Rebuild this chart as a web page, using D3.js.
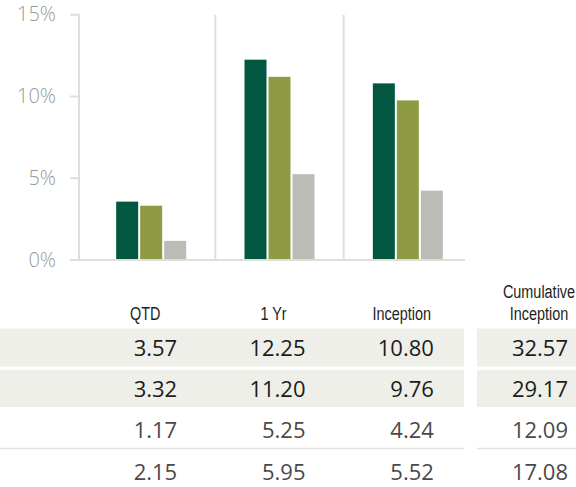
<!DOCTYPE html>
<meta charset="utf-8">
<script src="https://cdn.jsdelivr.net/npm/d3@7"></script>
<style>
  body { margin: 0; background: #fff; }
  .tick-label { font: 300 20px "Open Sans", sans-serif; fill: #999; }
  .head { font: 19px "Liberation Sans", Arial, sans-serif; fill: #1e1e1e; }
  .num { font: 22px "Open Sans", sans-serif; }
</style>
<body>
<script>
  // periods shown as bar groups and table columns
  var periods = ["QTD", "1 Yr", "Inception"];
  var headers = ["QTD", "1 Yr", "Inception", "Cumulative\nInception"];
  var yTicks = [0, 5, 10, 15];

  // table rows (first three are also drawn as bars)
  var row1 = [3.57, 12.25, 10.80];
  var row2 = [3.32, 11.20, 9.76];
  var row3 = [1.17, 5.25, 4.24];
  var row4 = [2.15, 5.95, 5.52];
  var cumulative = [32.57, 29.17, 12.09, 17.08];

  var barRows = [row1, row2, row3];
  var barColors = ["#035741", "#8f9b43", "#bcbcb7"];
  var tableRows = [row1, row2, row3, row4];

  var width = 576, height = 487;
  var svg = d3.select("body").append("svg")
    .attr("width", width)
    .attr("height", height);

  var x = d3.scaleBand().domain(periods).range([87, 472]);
  var x1 = d3.scaleBand().domain(d3.range(barRows.length)).range([-35, 35]).paddingInner(0.0833);
  var y = d3.scaleLinear().domain([0, 15]).range([260, 14.7]);

  var gridColor = "#dfdfd9";

  // left axis line + ticks
  svg.append("line")
    .attr("x1", 79).attr("x2", 79)
    .attr("y1", y(15)).attr("y2", y(0))
    .attr("stroke", gridColor).attr("stroke-width", 2);

  svg.selectAll(".ytick").data(yTicks).enter().append("line")
    .attr("x1", 70).attr("x2", 79)
    .attr("y1", function (d) { return y(d); })
    .attr("y2", function (d) { return y(d); })
    .attr("stroke", gridColor).attr("stroke-width", 2);

  svg.selectAll(".tick-label").data(yTicks).enter().append("text")
    .attr("class", "tick-label")
    .attr("x", 56)
    .attr("y", function (d) { return y(d); })
    .attr("dy", "0.33em")
    .attr("text-anchor", "end")
    .text(function (d) { return d + "%"; });

  // dividers between periods
  svg.selectAll(".divider").data(periods.slice(1)).enter().append("line")
    .attr("x1", function (d) { return x(d); })
    .attr("x2", function (d) { return x(d); })
    .attr("y1", y(15)).attr("y2", y(0))
    .attr("stroke", gridColor).attr("stroke-width", 2);

  // bars
  var group = svg.selectAll(".period").data(periods).enter().append("g")
    .attr("transform", function (d) { return "translate(" + (x(d) + x.bandwidth() / 2) + ",0)"; });

  group.selectAll("rect")
    .data(function (d, i) {
      return barRows.map(function (r, k) { return { k: k, v: r[i] }; });
    })
    .enter().append("rect")
    .attr("x", function (d) { return x1(d.k); })
    .attr("width", x1.bandwidth())
    .attr("y", function (d) { return y(d.v); })
    .attr("height", function (d) { return y(0) - y(d.v); })
    .attr("fill", function (d) { return barColors[d.k]; });

  // baseline
  svg.append("line")
    .attr("x1", 70).attr("x2", 465)
    .attr("y1", y(0)).attr("y2", y(0))
    .attr("stroke", gridColor).attr("stroke-width", 2);

  // ---- table ----
  var colRight = periods.map(function (p) { return x(p) + x.bandwidth() / 2 + 26; }).concat([568]);
  var headCenter = periods.map(function (p) { return x(p) + x.bandwidth() / 2 - 6; }).concat([539]);
  var rowBase = [356, 397, 438, 480];
  var segments = [[0, 464], [477, 576]];

  // shaded rows
  [[328.5, 366.5], [370, 407]].forEach(function (band) {
    svg.selectAll(null).data(segments).enter().append("rect")
      .attr("x", function (s) { return s[0]; })
      .attr("width", function (s) { return s[1] - s[0]; })
      .attr("y", band[0])
      .attr("height", band[1] - band[0])
      .attr("fill", "#efefea");
  });

  // separator before last row
  svg.selectAll(null).data(segments).enter().append("line")
    .attr("x1", function (s) { return s[0]; })
    .attr("x2", function (s) { return s[1]; })
    .attr("y1", 448.5).attr("y2", 448.5)
    .attr("stroke", "#e3e3de").attr("stroke-width", 1.5);

  // headers (condensed)
  headers.forEach(function (h, i) {
    var lines = h.split("\n");
    var g = svg.append("g")
      .attr("transform", "translate(" + headCenter[i] + ",320) scale(0.76,1)");
    var t = g.append("text")
      .attr("class", "head")
      .attr("text-anchor", "middle");
    lines.forEach(function (l, j) {
      t.append("tspan")
        .attr("x", 0)
        .attr("y", -(lines.length - 1 - j) * 22)
        .text(l);
    });
  });

  // values
  tableRows.forEach(function (r, ri) {
    var vals = r.concat([cumulative[ri]]);
    svg.selectAll(null).data(vals).enter().append("text")
      .attr("class", "num")
      .attr("x", function (d, i) { return colRight[i]; })
      .attr("y", rowBase[ri])
      .attr("text-anchor", "end")
      .attr("font-weight", ri < 2 ? 400 : 300)
      .attr("fill", ri < 2 ? "#1c1c1c" : "#4a4a4a")
      .text(function (d) { return d.toFixed(2); });
  });
</script>
</body>
